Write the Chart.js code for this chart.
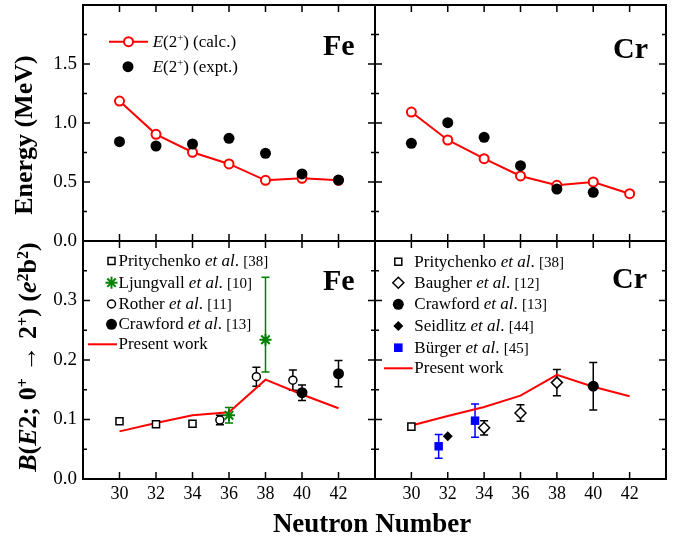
<!DOCTYPE html>
<html>
<head>
<meta charset="utf-8">
<script src="https://cdn.jsdelivr.net/npm/chart.js"></script>
<style>
  html, body { margin: 0; padding: 0; background: #fff; }
  #wrap { position: relative; width: 685px; height: 544px; overflow: hidden;
          font-family: "Liberation Serif", "Times New Roman", serif; color: #000; }
  #wrap canvas { position: absolute; left: 0; top: -20px; }
  .t { position: absolute; white-space: nowrap; }
  .leg { font-size: 17px; line-height: 20px; }
  .ref { font-size: 15px; }
  sup { font-size: 0.62em; position: relative; top: -0.5em; vertical-align: baseline; line-height: 0; }
  .big { font-weight: bold; font-size: 30px; line-height: 30px; }
  .ytitle { font-weight: bold; font-size: 26px; line-height: 26px;
            transform: translate(-50%, -50%) rotate(-90deg); }
</style>
</head>
<body>
<div id="wrap">
  <canvas id="tl" width="685" height="564"></canvas>
  <canvas id="tr" width="685" height="564"></canvas>
  <canvas id="bl" width="685" height="564"></canvas>
  <canvas id="br" width="685" height="564"></canvas>

  <!-- legend markers -->
  <svg class="t" style="left:0;top:0" width="685" height="544">
    <line x1="109" y1="41.7" x2="148" y2="41.7" stroke="#f00" stroke-width="2"/>
    <circle cx="128.5" cy="41.7" r="4.5" fill="#fff" stroke="#f00" stroke-width="2"/>
    <circle cx="128" cy="66.7" r="5.5" fill="#000"/>

    <rect x="108" y="257.5" width="7" height="7" fill="#fff" stroke="#000" stroke-width="1.5"/>
    <g stroke="#008000" stroke-width="2">
      <line x1="111.5" y1="276.7" x2="111.5" y2="288.7"/>
      <line x1="105.5" y1="282.7" x2="117.5" y2="282.7"/>
      <line x1="107.3" y1="278.5" x2="115.7" y2="286.9"/>
      <line x1="107.3" y1="286.9" x2="115.7" y2="278.5"/>
    </g>
    <circle cx="111.5" cy="304" r="4" fill="#fff" stroke="#000" stroke-width="1.5"/>
    <circle cx="111.5" cy="324.3" r="5.5" fill="#000"/>
    <line x1="88" y1="344.3" x2="117" y2="344.3" stroke="#f00" stroke-width="2"/>

    <rect x="394.8" y="258.2" width="7" height="7" fill="#fff" stroke="#000" stroke-width="1.5"/>
    <polygon points="398.3,277.2 403.8,282.7 398.3,288.2 392.8,282.7" fill="#fff" stroke="#000" stroke-width="1.5"/>
    <circle cx="398.3" cy="304.3" r="5.5" fill="#000"/>
    <polygon points="398.3,321 403.3,326 398.3,331 393.3,326" fill="#000"/>
    <rect x="394" y="343.4" width="8.6" height="8.6" fill="#00f"/>
    <line x1="384" y1="368.3" x2="412.7" y2="368.3" stroke="#f00" stroke-width="2"/>
  </svg>

  <!-- legend texts -->
  <div class="t leg" style="left:152.7px;top:31.7px"><i>E</i>(2<sup>+</sup>) (calc.)</div>
  <div class="t leg" style="left:152.7px;top:56.7px"><i>E</i>(2<sup>+</sup>) (expt.)</div>

  <div class="t leg" style="left:118.5px;top:251px">Pritychenko <i>et al</i>. <span class="ref">[38]</span></div>
  <div class="t leg" style="left:118.5px;top:272.7px">Ljungvall <i>et al</i>. <span class="ref">[10]</span></div>
  <div class="t leg" style="left:118.5px;top:294px">Rother <i>et al</i>. <span class="ref">[11]</span></div>
  <div class="t leg" style="left:118.5px;top:314.3px">Crawford <i>et al</i>. <span class="ref">[13]</span></div>
  <div class="t leg" style="left:118.5px;top:334.3px">Present work</div>

  <div class="t leg" style="left:414.3px;top:251.7px">Pritychenko <i>et al</i>. <span class="ref">[38]</span></div>
  <div class="t leg" style="left:414.3px;top:272.7px">Baugher <i>et al</i>. <span class="ref">[12]</span></div>
  <div class="t leg" style="left:414.3px;top:294.3px">Crawford <i>et al</i>. <span class="ref">[13]</span></div>
  <div class="t leg" style="left:414.3px;top:316px">Seidlitz <i>et al</i>. <span class="ref">[44]</span></div>
  <div class="t leg" style="left:414.3px;top:337.7px">Bürger <i>et al</i>. <span class="ref">[45]</span></div>
  <div class="t leg" style="left:414.3px;top:358.3px">Present work</div>

  <!-- panel labels -->
  <div class="t big" style="left:323px;top:29.9px">Fe</div>
  <div class="t big" style="left:613px;top:32.9px">Cr</div>
  <div class="t big" style="left:323px;top:264.9px">Fe</div>
  <div class="t big" style="left:612px;top:262.9px">Cr</div>

  <!-- axis titles -->
  <div class="t ytitle" style="left:23.5px;top:135px">Energy (MeV)</div>
  <div class="t ytitle" style="left:28.4px;top:356.5px"><i>B</i>(<i>E</i>2; 0<sup>+</sup> → 2<sup>+</sup>) (<i>e</i><sup>2</sup>b<sup>2</sup>)</div>
  <div class="t" style="left:372px;top:510.4px;transform:translateX(-50%);font-weight:bold;font-size:27px;line-height:27px">Neutron Number</div>
</div>

<script>
// neutron numbers (even)
const neutron = [30, 32, 34, 36, 38, 40, 42];

// E(2+) energies, MeV
const feCalcE = [1.186, 0.904, 0.752, 0.653, 0.514, 0.531, 0.514];
const feExptE = [0.842, 0.805, 0.822, 0.870, 0.743, 0.568, 0.516];
const crCalcE = [1.093, 0.856, 0.698, 0.551, 0.472, 0.500, 0.401];
const crExptN = [30, 32, 34, 36, 38, 40];
const crExptE = [0.828, 1.003, 0.879, 0.638, 0.440, 0.413];

// Fe B(E2) values, e^2 b^2
const fePrityN = [30, 32, 34];
const fePrityB = [0.097, 0.092, 0.093];
const feLjungN = [36, 38];
const feLjungB = [0.107, 0.234];
const feLjungLo = [0.013, 0.054];
const feLjungHi = [0.013, 0.105];
const feRotherN = [35.5, 37.5, 39.5];
const feRotherB = [0.099, 0.172, 0.166];
const feRotherErr = [0.008, 0.016, 0.017];
const feCrawN = [40, 42];
const feCrawB = [0.145, 0.177];
const feCrawErr = [0.013, 0.022];
const fePresentB = [0.080, 0.094, 0.107, 0.112, 0.167, 0.142, 0.119];

// Cr B(E2) values
const crPrityN = [30];
const crPrityB = [0.088];
const crBaugherN = [34, 36, 38];
const crBaugherB = [0.086, 0.111, 0.162];
const crBaugherErr = [0.012, 0.014, 0.022];
const crCrawN = [40];
const crCrawB = [0.156];
const crCrawErr = [0.040];
const crSeidN = [32];
const crSeidB = [0.072];
const crBurgerN = [31.5, 33.5];
const crBurgerB = [0.055, 0.098];
const crBurgerErr = [0.020, 0.028];
const crPresentB = [0.090, 0.106, 0.121, 0.140, 0.175, 0.155, 0.139];

const RED = '#ff0000', GREEN = '#008000', BLUE = '#0000ff';

function pts(xs, ys) {
  return xs.map((x, i) => ({ x: x, y: ys[i] }));
}

// vertical error bars with caps, drawn under the points
const errorBars = {
  id: 'errorBars',
  beforeDatasetsDraw(chart) {
    const ctx = chart.ctx, sx = chart.scales.x, sy = chart.scales.y;
    chart.data.datasets.forEach(ds => {
      if (!ds.errLow) return;
      ctx.save();
      ctx.strokeStyle = ds.errColor || '#000';
      ctx.lineWidth = 1.5;
      ds.data.forEach((p, i) => {
        const px = sx.getPixelForValue(p.x);
        const lo = sy.getPixelForValue(p.y - ds.errLow[i]);
        const hi = sy.getPixelForValue(p.y + ds.errHigh[i]);
        ctx.beginPath();
        ctx.moveTo(px, lo); ctx.lineTo(px, hi);
        ctx.moveTo(px - 4, lo); ctx.lineTo(px + 4, lo);
        ctx.moveTo(px - 4, hi); ctx.lineTo(px + 4, hi);
        ctx.stroke();
      });
      ctx.restore();
    });
  }
};

// box frame with inward ticks on all sides
function framePlugin(yMax, yMajor, yMinor) {
  return {
    id: 'frame',
    afterDatasetsDraw(chart) {
      const ctx = chart.ctx, a = chart.chartArea, sx = chart.scales.x, sy = chart.scales.y;
      ctx.save();
      ctx.strokeStyle = '#000';
      ctx.lineWidth = 1.5;
      ctx.beginPath();
      for (let n = 30; n <= 42; n += 2) {
        const px = sx.getPixelForValue(n);
        ctx.moveTo(px, a.bottom); ctx.lineTo(px, a.bottom - 7);
        ctx.moveTo(px, a.top); ctx.lineTo(px, a.top + 7);
      }
      const steps = Math.round(yMax / yMinor);
      const every = Math.round(yMajor / yMinor);
      for (let i = 1; i < steps; i++) {
        const py = sy.getPixelForValue(i * yMinor);
        const len = i % every === 0 ? 7 : 4;
        ctx.moveTo(a.left, py); ctx.lineTo(a.left + len, py);
        ctx.moveTo(a.right, py); ctx.lineTo(a.right - len, py);
      }
      ctx.stroke();
      ctx.lineWidth = 2;
      ctx.strokeRect(a.left, a.top, a.right - a.left, a.bottom - a.top);
      ctx.restore();
    }
  };
}

function makeChart(id, cfg) {
  new Chart(document.getElementById(id), {
    type: 'scatter',
    data: { datasets: cfg.datasets },
    options: {
      responsive: false,
      animation: false,
      devicePixelRatio: 1,
      layout: { padding: cfg.padding },
      plugins: { legend: { display: false }, tooltip: { enabled: false } },
      scales: {
        x: {
          min: 28, max: 44,
          display: cfg.showX,
          afterFit: s => { s.height = cfg.showX ? 40 : 0; },
          grid: { display: false, drawTicks: false },
          border: { display: false },
          ticks: {
            stepSize: 2, padding: 4, color: '#000',
            font: { family: 'Liberation Serif', size: 18 },
            maxRotation: 0, autoSkip: false,
            callback: v => (v <= 28 || v >= 44) ? '' : String(v)
          }
        },
        y: {
          min: 0, max: cfg.yMax,
          display: cfg.showY,
          afterFit: s => { s.width = cfg.showY ? 60 : 0; },
          grid: { display: false, drawTicks: false },
          border: { display: false },
          ticks: {
            stepSize: cfg.yMajor, padding: 6, color: '#000',
            font: { family: 'Liberation Serif', size: 19 },
            callback: v => v >= cfg.yMax - 1e-9 ? '' : v.toFixed(1)
          }
        }
      }
    },
    plugins: [errorBars, framePlugin(cfg.yMax, cfg.yMajor, cfg.yMinor)]
  });
}

function energySets(exptN, exptE, calcE) {
  return [
    { data: pts(exptN, exptE), pointStyle: 'circle', pointRadius: 5.5,
      backgroundColor: '#000', borderColor: '#000', borderWidth: 0 },
    { data: pts(neutron, calcE), showLine: true, borderColor: RED, borderWidth: 2,
      pointStyle: 'circle', pointRadius: 4.5, pointBorderWidth: 2,
      pointBackgroundColor: '#fff', pointBorderColor: RED }
  ];
}

makeChart('tl', {
  padding: { left: 23, right: 310, top: 25, bottom: 303 },
  showX: false, showY: true, yMax: 2, yMajor: 0.5, yMinor: 0.25,
  datasets: energySets(neutron, feExptE, feCalcE)
});

makeChart('tr', {
  padding: { left: 375, right: 19, top: 25, bottom: 303 },
  showX: false, showY: false, yMax: 2, yMajor: 0.5, yMinor: 0.25,
  datasets: energySets(crExptN, crExptE, crCalcE)
});

makeChart('bl', {
  padding: { left: 23, right: 310, top: 261, bottom: 25 },
  showX: true, showY: true, yMax: 0.4, yMajor: 0.1, yMinor: 0.05,
  datasets: [
    { data: pts(feLjungN, feLjungB), pointStyle: 'star', pointRadius: 6,
      borderColor: GREEN, borderWidth: 2, backgroundColor: GREEN,
      errLow: feLjungLo, errHigh: feLjungHi, errColor: GREEN },
    { data: pts(feCrawN, feCrawB), pointStyle: 'circle', pointRadius: 5.5,
      backgroundColor: '#000', borderColor: '#000', borderWidth: 0,
      errLow: feCrawErr, errHigh: feCrawErr },
    { data: pts(feRotherN, feRotherB), pointStyle: 'circle', pointRadius: 4,
      backgroundColor: '#fff', borderColor: '#000', borderWidth: 1.5,
      errLow: feRotherErr, errHigh: feRotherErr },
    { data: pts(fePrityN, fePrityB), pointStyle: 'rect', pointRadius: 5,
      backgroundColor: '#fff', borderColor: '#000', borderWidth: 1.5 },
    { data: pts(neutron, fePresentB), showLine: true, borderColor: RED,
      borderWidth: 2, pointRadius: 0 }
  ]
});

makeChart('br', {
  padding: { left: 375, right: 19, top: 261, bottom: 25 },
  showX: true, showY: false, yMax: 0.4, yMajor: 0.1, yMinor: 0.05,
  datasets: [
    { data: pts(crBurgerN, crBurgerB), pointStyle: 'rect', pointRadius: 6,
      backgroundColor: BLUE, borderColor: BLUE, borderWidth: 0,
      errLow: crBurgerErr, errHigh: crBurgerErr, errColor: BLUE },
    { data: pts(crSeidN, crSeidB), pointStyle: 'rectRot', pointRadius: 5,
      backgroundColor: '#000', borderColor: '#000', borderWidth: 0 },
    { data: pts(crCrawN, crCrawB), pointStyle: 'circle', pointRadius: 5.5,
      backgroundColor: '#000', borderColor: '#000', borderWidth: 0,
      errLow: crCrawErr, errHigh: crCrawErr },
    { data: pts(crBaugherN, crBaugherB), pointStyle: 'rectRot', pointRadius: 5.5,
      backgroundColor: '#fff', borderColor: '#000', borderWidth: 1.5,
      errLow: crBaugherErr, errHigh: crBaugherErr },
    { data: pts(crPrityN, crPrityB), pointStyle: 'rect', pointRadius: 5,
      backgroundColor: '#fff', borderColor: '#000', borderWidth: 1.5 },
    { data: pts(neutron, crPresentB), showLine: true, borderColor: RED,
      borderWidth: 2, pointRadius: 0 }
  ]
});
</script>
</body>
</html>
